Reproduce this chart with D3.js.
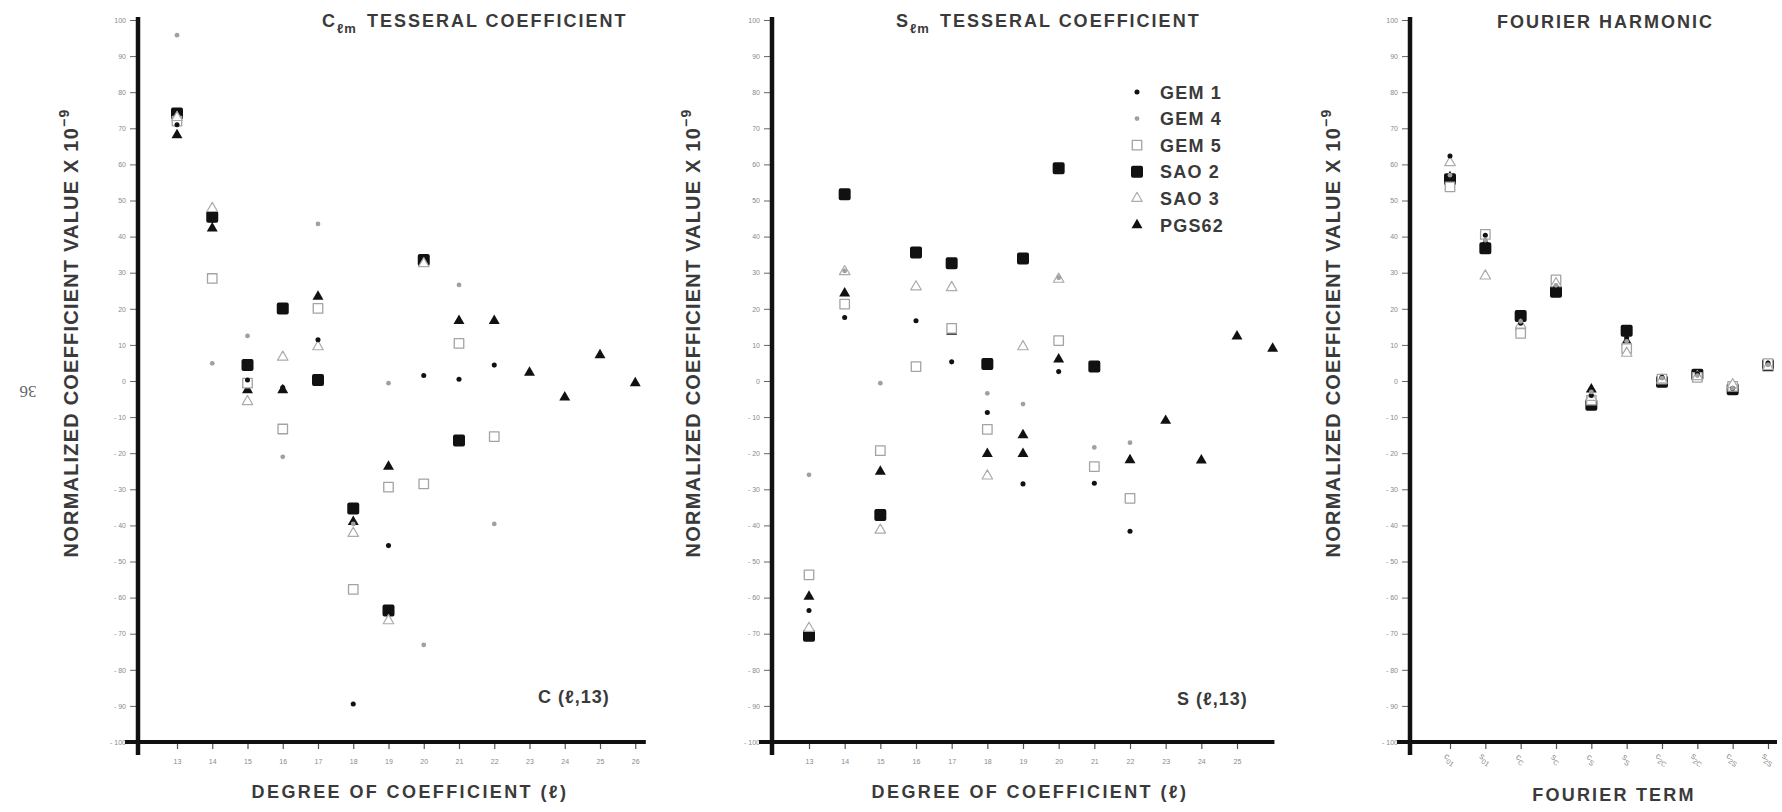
<!DOCTYPE html>
<html>
<head>
<meta charset="utf-8">
<script src="https://cdn.jsdelivr.net/npm/d3@7"></script>
<style>
  body { margin: 0; background: #fff; }
  svg { display: block; }
</style>
</head>
<body>
<div id="chart"></div>
<script>
(function() {
    'use strict';

    // DATA
    const seriesNames = ["GEM 1", "GEM 4", "GEM 5", "SAO 2", "SAO 3", "PGS62"];

    // degree l for the two tesseral panels
    const degrees = [13, 14, 15, 16, 17, 18, 19, 20, 21, 22, 23, 24, 25, 26];
    const degreeTicksC = [13, 14, 15, 16, 17, 18, 19, 20, 21, 22, 23, 24, 25, 26];
    const degreeTicksS = [13, 14, 15, 16, 17, 18, 19, 20, 21, 22, 23, 24, 25];

    // C(l,13), normalized x 10^-9
    const cGem1  = [71, 44.5, 0.3, -1.8, 11.4, -89.5, -45.6, 1.5, 0.5, 4.4, null, null, null, null];
    const cGem4  = [95.8, 4.9, 12.5, -21, 43.5, -39.6, -0.6, -73.1, 26.6, -39.6, null, null, null, null];
    const cGem5  = [72, 28.4, -0.6, -13.3, 20.1, -57.7, -29.4, -28.5, 10.4, -15.4, null, null, null, null];
    const cSao2  = [74.1, 45.5, 4.4, 20.1, 0.3, -35.3, -63.6, 33.5, -16.5, null, null, null, null, null];
    const cSao3  = [73, 47.8, -5.7, 6.6, 9.5, -42.2, -66.4, 32.5, null, null, null, null, null, null];
    const cPgs62 = [68.1, 42.3, -2.5, -2.5, 23.4, -39, -23.7, null, 16.7, 16.7, 2.3, -4.5, 7.2, -0.6];

    // S(l,13), normalized x 10^-9
    const sGem1  = [-63.6, 17.6, null, 16.7, 5.3, -8.7, -28.5, 2.6, -28.3, -41.6, null, null, null, null];
    const sGem4  = [-26, 30.5, -0.6, null, null, -3.4, -6.4, 28.6, -18.4, -17.1, null, null, null, null];
    const sGem5  = [-53.7, 21.3, -19.3, 4, 14.6, -13.4, null, 11.2, -23.7, -32.5, null, null, null, null];
    const sSao2  = [-70.6, 51.7, -37.1, 35.6, 32.6, 4.7, 33.9, 58.9, 4, null, null, null, null, null];
    const sSao3  = [-68.5, 30.3, -41.3, 26.1, 25.9, -26.3, 9.5, 28.2, null, null, null, null, null, null];
    const sPgs62 = [-59.7, 24.3, -25.1, null, 13.7, -20.2, -15, 6, null, -21.9, -11, -22, 12.4, 9];
    // a second PGS62 mark printed at l = 19
    const sPgs62b = [null, null, null, null, null, null, -20.2, null, null, null, null, null, null, null];

    // Fourier harmonic terms
    const fourierTerms = ["C_01", "S_01", "C_C", "S_C", "C_S", "S_S", "C_2C", "S_2C", "C_2S", "S_2S"];
    const fGem1  = [62.3, 40.4, 16, 26, -4, 12, 1, 2, -2, 5];
    const fGem4  = [57, 39, 16.5, 26.5, -3, 11, 0.8, 1.5, -2, 4.5];
    const fGem5  = [53.8, 40.6, 13.2, 28, -5.3, 9, 0.5, 1, -1.5, 4.8];
    const fSao2  = [55.9, 36.8, 18, 24.7, -6.6, 13.9, -0.2, 1.7, -2.3, 4.4];
    const fSao3  = [60.5, 29.1, 15.5, 27, -4.5, 7.7, 0.3, 1.2, -1, 4];
    const fPgs62 = [56.5, 38, 15, 26.6, -2.3, 10.9, 0, 1, -1.8, 3.6];

    const yTickValues = [-100, -90, -80, -70, -60, -50, -40, -30, -20, -10, 0,
                         10, 20, 30, 40, 50, 60, 70, 80, 90, 100];

    // drawChart
    const width = 1782;
    const height = 812;
    const font = "'Liberation Sans', Arial, Helvetica, sans-serif";
    const ink = "#111";
    const textInk = "#3a3a3a";
    const faint = "#8a8a8a";

    const svg = d3.select("#chart")
        .append("svg")
        .attr("width", width)
        .attr("height", height);

    // Y SCALE (shared)
    const y = d3.scaleLinear()
        .domain([-100, 100])
        .range([742, 20]);

    // marker styles
    const styles = {
        "GEM 1": { sym: d3.symbolCircle, size: 20, fill: ink, stroke: "none" },
        "GEM 4": { sym: d3.symbolCircle, size: 18, fill: "#a0a0a0", stroke: "none" },
        "GEM 5": { sym: d3.symbolSquare, size: 90, fill: "#fff", stroke: "#a3a3a3", sw: 1.3 },
        "SAO 2": { sym: d3.symbolSquare, size: 64, fill: ink, stroke: ink, sw: 4 },
        "SAO 3": { sym: d3.symbolTriangle, size: 48, fill: "#fff", stroke: "#ababab", sw: 1.2 },
        "PGS62": { sym: d3.symbolTriangle, size: 52, fill: ink, stroke: "none" }
    };
    const drawOrder = ["SAO 2", "PGS62", "GEM 5", "SAO 3", "GEM 1", "GEM 4"];

    function drawMarks(g, x, keys, values, name) {
        const st = styles[name];
        const pts = keys.map((k, i) => ({ k: k, v: values[i] })).filter(p => p.v != null);
        g.append("g")
            .selectAll("path")
            .data(pts)
            .join("path")
            .attr("transform", p => `translate(${x(p.k)},${y(p.v)})`)
            .attr("d", d3.symbol(st.sym, st.size))
            .attr("fill", st.fill)
            .attr("stroke", st.stroke)
            .attr("stroke-width", st.sw || 0)
            .attr("stroke-linejoin", "round");
    }

    function drawFrame(axisX, xEnd, x, tickVals, tickFmt) {
        // Y AXIS
        svg.append("g")
            .attr("transform", `translate(${axisX}, 0)`)
            .call(d3.axisLeft(y).tickValues(yTickValues).tickSize(8).tickPadding(4)
                .tickFormat(d => d < 0 ? "- " + (-d) : d))
            .call(g => g.select(".domain").remove())
            .call(g => g.selectAll("line").attr("stroke", "#666").attr("stroke-width", 1))
            .selectAll("text")
            .attr("fill", faint)
            .attr("font-size", "7px")
            .attr("font-family", font);

        // X AXIS
        const xa = svg.append("g")
            .attr("transform", `translate(0, ${y(-100)})`)
            .call(d3.axisBottom(x).tickValues(tickVals).tickSize(7).tickPadding(10)
                .tickFormat(tickFmt || (d => d)))
            .call(g => g.select(".domain").remove())
            .call(g => g.selectAll("line").attr("stroke", "#555").attr("stroke-width", 1.2));
        xa.selectAll("text")
            .attr("fill", faint)
            .attr("font-size", "7px")
            .attr("font-family", font);

        // heavy axis lines
        svg.append("line")
            .attr("x1", axisX).attr("x2", axisX)
            .attr("y1", 17).attr("y2", 755)
            .attr("stroke", ink).attr("stroke-width", 4.5);
        svg.append("line")
            .attr("x1", axisX - 13).attr("x2", xEnd)
            .attr("y1", y(-100)).attr("y2", y(-100))
            .attr("stroke", ink).attr("stroke-width", 4);
        return xa;
    }

    function yTitle(cx) {
        const t = svg.append("text")
            .attr("transform", `translate(${cx}, 333) rotate(-90)`)
            .attr("text-anchor", "middle")
            .attr("font-family", font)
            .attr("font-weight", "bold")
            .attr("font-size", "20px")
            .attr("letter-spacing", "1.2px")
            .attr("fill", textInk);
        t.append("tspan").text("NORMALIZED COEFFICIENT VALUE X 10");
        t.append("tspan").attr("dy", -9).attr("font-size", "14px").text("\u22129");
    }

    function label(txt, x0, y0, anchor, size, spacing) {
        return svg.append("text")
            .attr("x", x0).attr("y", y0)
            .attr("text-anchor", anchor || "start")
            .attr("font-family", font)
            .attr("font-weight", "bold")
            .attr("font-size", (size || 18) + "px")
            .attr("letter-spacing", (spacing == null ? 2 : spacing) + "px")
            .attr("fill", textInk)
            .text(txt);
    }

    function tesseralTitle(letter, x0) {
        const t = svg.append("text")
            .attr("x", x0).attr("y", 27)
            .attr("font-family", font)
            .attr("font-weight", "bold")
            .attr("font-size", "18px")
            .attr("letter-spacing", "2px")
            .attr("fill", textInk);
        t.append("tspan").text(letter);
        t.append("tspan").attr("dy", 6).attr("font-size", "13px").attr("letter-spacing", "1px").text("\u2113m");
        t.append("tspan").attr("dy", -6).attr("dx", 10).text("TESSERAL COEFFICIENT");
    }

    // PANEL 1 : C(l,13)
    const x1 = d3.scaleLinear().domain([13, 25]).range([177, 600]);
    drawFrame(138, x1(26.3), x1, degreeTicksC);
    const cSeries = { "GEM 1": cGem1, "GEM 4": cGem4, "GEM 5": cGem5, "SAO 2": cSao2, "SAO 3": cSao3, "PGS62": cPgs62 };
    const g1 = svg.append("g");
    drawOrder.forEach(n => drawMarks(g1, x1, degrees, cSeries[n], n));
    tesseralTitle("C", 322);
    yTitle(78);
    label("DEGREE OF COEFFICIENT (\u2113)", 410, 798, "middle", 18, 2.4);
    label("C (\u2113,13)", 538, 703, "start", 18, 1);

    // PANEL 2 : S(l,13)
    const x2 = d3.scaleLinear().domain([13, 25]).range([809, 1237]);
    drawFrame(772, x2(26.05), x2, degreeTicksS);
    const sSeries = { "GEM 1": sGem1, "GEM 4": sGem4, "GEM 5": sGem5, "SAO 2": sSao2, "SAO 3": sSao3, "PGS62": sPgs62 };
    const g2 = svg.append("g");
    drawOrder.forEach(n => drawMarks(g2, x2, degrees, sSeries[n], n));
    drawMarks(g2, x2, degrees, sPgs62b, "PGS62");
    tesseralTitle("S", 896);
    yTitle(700);
    label("DEGREE OF COEFFICIENT (\u2113)", 1030, 798, "middle", 18, 2.4);
    label("S (\u2113,13)", 1177, 705, "start", 18, 1);

    // LEGEND
    const legend = svg.append("g");
    seriesNames.forEach((n, i) => {
        const ly = 92 + i * 26.6;
        const st = styles[n];
        legend.append("path")
            .attr("transform", `translate(1137, ${ly})`)
            .attr("d", d3.symbol(st.sym, st.size))
            .attr("fill", st.fill)
            .attr("stroke", st.stroke)
            .attr("stroke-width", st.sw || 0)
            .attr("stroke-linejoin", "round");
        legend.append("text")
            .attr("x", 1160).attr("y", ly + 6.5)
            .attr("font-family", font)
            .attr("font-weight", "bold")
            .attr("font-size", "18px")
            .attr("letter-spacing", "1.2px")
            .attr("fill", textInk)
            .text(n);
    });

    // PANEL 3 : Fourier harmonic
    const x3 = d3.scalePoint().domain(fourierTerms).range([1450, 1768]);
    const xa3 = drawFrame(1410, 1777, x3, fourierTerms, () => "");
    xa3.selectAll(".tick")
        .append("text")
        .attr("transform", "translate(-2, 19) rotate(35)")
        .attr("text-anchor", "middle")
        .attr("font-family", font)
        .attr("font-size", "9px")
        .attr("fill", faint)
        .each(function(d) {
            const parts = d.split("_");
            const t = d3.select(this);
            t.append("tspan").text(parts[0].toLowerCase());
            t.append("tspan").attr("dy", 3).attr("font-size", "7px").text(parts[1]);
        });
    const fSeries = { "GEM 1": fGem1, "GEM 4": fGem4, "GEM 5": fGem5, "SAO 2": fSao2, "SAO 3": fSao3, "PGS62": fPgs62 };
    const g3 = svg.append("g");
    drawOrder.forEach(n => drawMarks(g3, x3, fourierTerms, fSeries[n], n));
    label("FOURIER HARMONIC", 1497, 28, "start", 18, 2);
    yTitle(1340);
    label("FOURIER TERM", 1614, 801, "middle", 18, 2.2);

    // page number printed upside down
    svg.append("text")
        .attr("transform", "translate(28, 386) rotate(180)")
        .attr("text-anchor", "middle")
        .attr("font-family", "'Liberation Serif', 'DejaVu Serif', serif")
        .attr("font-size", "17px")
        .attr("fill", "#666")
        .text("36");

})();
</script>
</body>
</html>
